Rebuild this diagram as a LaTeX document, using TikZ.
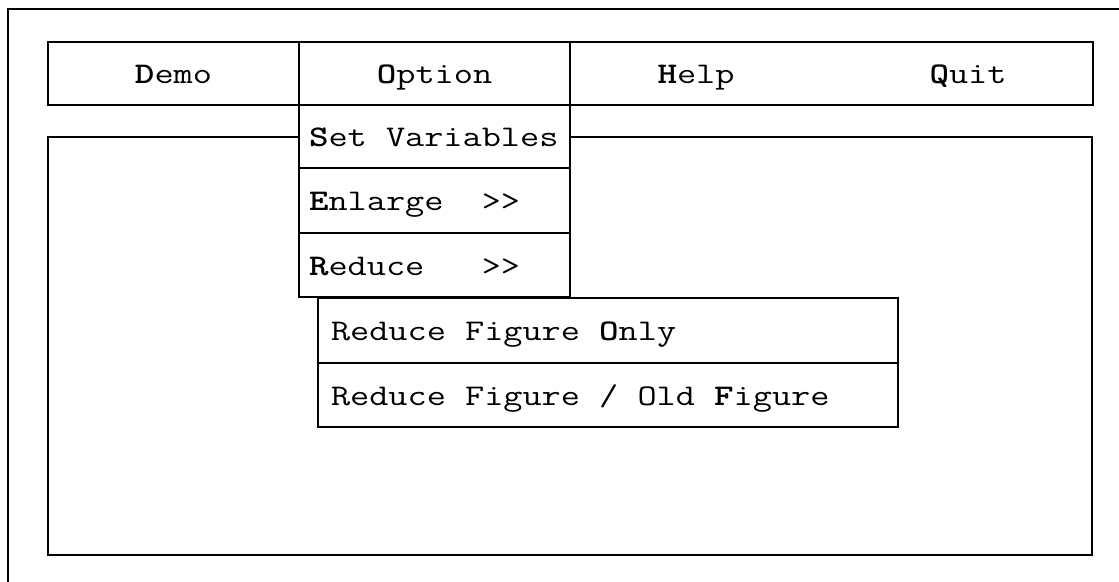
\documentclass[tikz,border=0pt]{standalone}
\usepackage{graphicx}
% typewriter face of the menus
\newcommand{\menufont}{\ttfamily\fontsize{30}{36}\selectfont}
% one character cell of blank space
\newcommand{\sk}{\hspace*{\fontcharwd\font`\x}}
% labels widened to the pitch of the menu lettering
\newcommand{\mt}[1]{\scalebox{1.24}[1]{#1}}
\begin{document}
\begin{tikzpicture}[x=1pt,y=-1pt,
  frame/.style={line width=2.1pt, line cap=rect},
  cell/.style={draw, line width=2.1pt, fill=white, rectangle, inner sep=0pt,
    font=\menufont, text height=26pt, text depth=6pt},
  menuitem/.style={cell, align=left, inner xsep=10pt},
  subitem/.style={cell, align=left, inner xsep=13pt},
  label/.style={inner sep=0pt, font=\menufont, text height=26pt, text depth=6pt}]
  \useasboundingbox (0,0) rectangle (1119,581);

  % screen border (only the left and top edges fall inside the picture)
  \draw[frame] (8,590) -- (8,9) -- (1130,9);

  % menu bar
  \node[cell, minimum width=251pt, minimum height=63pt] (demo) at (173.5,73.5) {\mt{\textbf{D}emo}};
  \node[cell, minimum width=523pt, minimum height=63pt] (hq) at (831.5,73.5) {};
  \node[label] (help) at (696,73.5) {\mt{\textbf{H}elp}};
  \node[label] (quit) at (968,73.5) {\mt{\textbf{Q}uit}};

  % working area
  \node[cell, minimum width=1044pt, minimum height=418pt] (work) at (570,346) {};

  % pull-down menu of "Option"
  \node[cell, minimum width=271pt, minimum height=63pt] (option) at (434.5,73.5) {\mt{\textbf{O}ption}};
  \node[menuitem, text width=251pt, minimum height=63pt] (setvar) at (434.5,136.5) {\mt{\textbf{S}et\sk Variables}};
  \node[menuitem, text width=251pt, minimum height=65pt] (enlarge) at (434.5,200.5) {\mt{\textbf{E}nlarge\sk\sk>>}};
  \node[menuitem, text width=251pt, minimum height=64pt] (reduce) at (434.5,265) {\mt{\textbf{R}educe\sk\sk\sk>>}};

  % cascaded sub-menu of "Reduce"
  \node[subitem, text width=554pt, minimum height=65pt] (only) at (608,330.5) {\mt{Reduce\sk Figure\sk\textbf{O}nly}};
  \node[subitem, text width=554pt, minimum height=64pt] (oldfig) at (608,395) {\mt{Reduce\sk Figure\sk/\sk Old\sk\textbf{F}igure}};
\end{tikzpicture}
\end{document}
